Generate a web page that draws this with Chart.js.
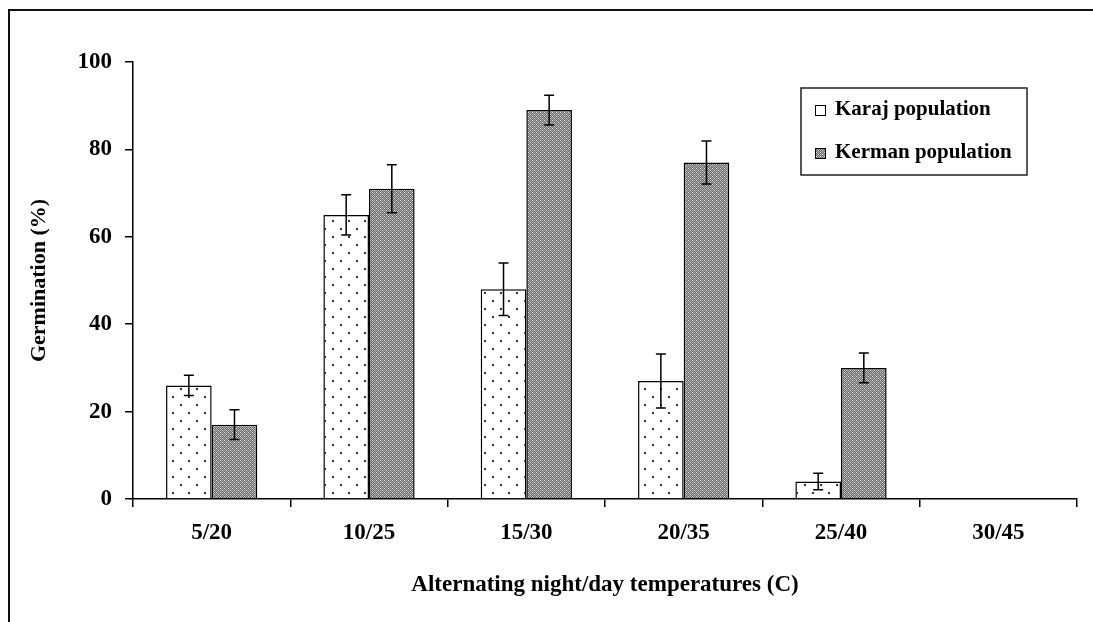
<!DOCTYPE html>
<html>
<head>
<meta charset="utf-8">
<script src="https://cdn.jsdelivr.net/npm/chart.js@4/dist/chart.umd.min.js"></script>
<style>
  html, body { margin: 0; padding: 0; background: #fff; }
  #wrap { position: relative; width: 1093px; height: 622px; }
</style>
</head>
<body>
<div id="wrap"><canvas id="chart" width="1093" height="622"></canvas></div>
<script>
// values
const categories = ['5/20', '10/25', '15/30', '20/35', '25/40', '30/45'];
const karaj = [26, 65, 48, 27, 4, 0];
const kerman = [17, 71, 89, 77, 30, 0];
const karajErr = [2.3, 4.6, 6, 6.2, 1.9, 0];
const kermanErr = [3.4, 5.5, 3.4, 4.9, 3.4, 0];
const seriesNames = ['Karaj population', 'Kerman population'];

const FONT = "'Liberation Serif', 'Times New Roman', serif";

// dotted fill for Karaj
function dotPattern() {
  const c = document.createElement('canvas');
  c.width = 16; c.height = 16;
  const g = c.getContext('2d');
  g.fillStyle = '#fff';
  g.fillRect(0, 0, 16, 16);
  g.fillStyle = '#333';
  g.fillRect(4, 4, 2, 2);
  g.fillRect(12, 12, 2, 2);
  return g.createPattern(c, 'repeat');
}

// fine checker fill for Kerman
function checkPattern() {
  const c = document.createElement('canvas');
  c.width = 4; c.height = 4;
  const g = c.getContext('2d');
  g.fillStyle = '#6c6c6c';
  g.fillRect(0, 0, 4, 4);
  g.fillStyle = '#a8a8a8';
  for (let i = 0; i < 4; i++)
    for (let j = 0; j < 4; j++)
      if ((i + j) % 2 === 0) g.fillRect(i, j, 1, 1);
  g.fillStyle = '#e0e0e0';
  g.fillRect(0, 0, 1, 1);
  g.fillRect(2, 2, 1, 1);
  return g.createPattern(c, 'repeat');
}

const fills = [dotPattern(), checkPattern()];
const errors = [karajErr, kermanErr];

const errorBars = {
  id: 'errorBars',
  afterDatasetsDraw(chart) {
    const ctx = chart.ctx;
    const y = chart.scales.y;
    ctx.save();
    ctx.strokeStyle = '#000';
    ctx.lineWidth = 1.5;
    chart.data.datasets.forEach((ds, i) => {
      const meta = chart.getDatasetMeta(i);
      meta.data.forEach((bar, j) => {
        const e = errors[i][j];
        if (!e) return;
        const v = ds.data[j];
        const top = y.getPixelForValue(v + e);
        const bot = y.getPixelForValue(v - e);
        ctx.beginPath();
        ctx.moveTo(bar.x, top); ctx.lineTo(bar.x, bot);
        ctx.moveTo(bar.x - 5, top); ctx.lineTo(bar.x + 5, top);
        ctx.moveTo(bar.x - 5, bot); ctx.lineTo(bar.x + 5, bot);
        ctx.stroke();
      });
    });
    ctx.restore();
  }
};

const boxLegend = {
  id: 'boxLegend',
  afterDraw(chart) {
    const ctx = chart.ctx;
    ctx.save();
    ctx.strokeStyle = '#222';
    ctx.lineWidth = 1.5;
    ctx.strokeRect(801, 88, 226, 87);
    ctx.font = 'bold 21px ' + FONT;
    ctx.textBaseline = 'middle';
    const rows = [110, 153];
    chart.data.datasets.forEach((ds, i) => {
      ctx.fillStyle = ds.backgroundColor;
      ctx.fillRect(815, rows[i] - 5, 10, 10);
      ctx.lineWidth = 1;
      ctx.strokeStyle = '#000';
      ctx.strokeRect(815.5, rows[i] - 4.5, 10, 10);
      ctx.fillStyle = '#000';
      ctx.fillText(ds.label, 835, rows[i]);
    });
    ctx.restore();
  }
};

const frame = {
  id: 'frame',
  beforeDraw(chart) {
    const ctx = chart.ctx;
    ctx.save();
    ctx.fillStyle = '#fff';
    ctx.fillRect(0, 0, chart.width, chart.height);
    ctx.strokeStyle = '#111';
    ctx.lineWidth = 2;
    ctx.beginPath();
    ctx.moveTo(9, 622); ctx.lineTo(9, 10); ctx.lineTo(1093, 10);
    ctx.stroke();
    ctx.restore();
  }
};

new Chart(document.getElementById('chart'), {
  type: 'bar',
  data: {
    labels: categories,
    datasets: [
      { label: seriesNames[0], data: karaj, backgroundColor: fills[0], borderColor: '#000', borderWidth: 1.5 },
      { label: seriesNames[1], data: kerman, backgroundColor: fills[1], borderColor: '#000', borderWidth: 1.5 }
    ]
  },
  options: {
    responsive: false,
    animation: false,
    categoryPercentage: 0.58,
    barPercentage: 1.0,
    layout: { padding: { left: 0, top: 62, right: 16, bottom: 0 } },
    plugins: { legend: { display: false }, tooltip: { enabled: false } },
    scales: {
      x: {
        afterFit: s => { s.height = 123; },
        grid: { offset: true, drawOnChartArea: false, tickLength: 8, color: '#000', lineWidth: 1.5 },
        border: { color: '#000', width: 1.5 },
        ticks: { color: '#000', padding: 12, font: { family: FONT, size: 23, weight: 'bold' } },
        title: {
          display: true, text: 'Alternating night/day temperatures (C)', color: '#000',
          padding: { top: 0, bottom: 23 }, font: { family: FONT, size: 23, weight: 'bold' }
        }
      },
      y: {
        min: 0, max: 100,
        afterFit: s => { s.width = 133; },
        grid: { drawOnChartArea: false, tickLength: 8, color: '#000', lineWidth: 1.5 },
        border: { color: '#000', width: 1.5 },
        ticks: { stepSize: 20, color: '#000', padding: 13, font: { family: FONT, size: 23, weight: 'bold' } },
        title: {
          display: true, text: 'Germination (%)', color: '#000',
          padding: { top: 26, bottom: 0 }, font: { family: FONT, size: 22, weight: 'bold' }
        }
      }
    }
  },
  plugins: [frame, errorBars, boxLegend]
});
</script>
</body>
</html>
